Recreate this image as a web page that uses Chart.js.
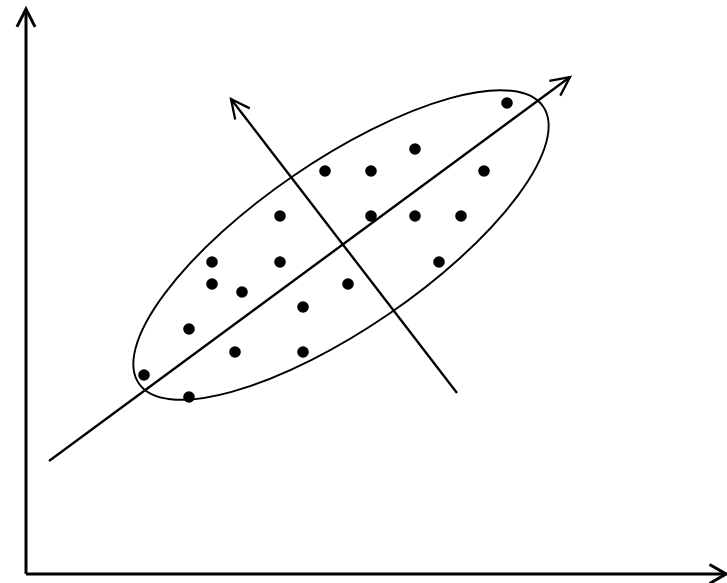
<!DOCTYPE html>
<html>
<head>
<meta charset="utf-8">
<script src="https://cdn.jsdelivr.net/npm/chart.js@4"></script>
<style>
  html, body { margin: 0; padding: 0; background: #fff; }
  #wrap { width: 727px; height: 583px; }
</style>
</head>
<body>
<div id="wrap"><canvas id="myChart"></canvas></div>
<script>
// sample points (units measured from the axes corner)
var pointsX = [481, 389, 299, 345, 458, 254, 345, 389, 435, 186, 254, 413, 186, 216, 322, 277, 163, 209, 277, 118, 163];
var pointsY = [471, 425, 403, 403, 403, 358, 358, 358, 358, 312, 312, 312, 290, 282, 290, 267, 245, 222, 222, 199, 177];

// principal component lines: [tail, tip]
var pc1X = [23, 544];
var pc1Y = [113, 497];
var pc2X = [431, 205];
var pc2Y = [181, 475];

// axes: [origin, tip]
var xAxisX = [0, 700];
var xAxisY = [0, 0];
var yAxisX = [0, 0];
var yAxisY = [0, 565];

// confidence ellipse
var ellipseCenter = [315, 329];
var ellipseRadii = [245, 84];
var ellipseAngle = 34.4;

function pairs(xs, ys) {
    return xs.map(function (x, i) { return { x: x, y: ys[i] }; });
}

function lineSet(xs, ys, width, arrow) {
    return {
        type: 'line',
        data: pairs(xs, ys),
        borderColor: '#000',
        borderWidth: width,
        pointRadius: 0,
        fill: false,
        tension: 0,
        clip: false,
        order: 2,
        arrow: arrow
    };
}

var ellipsePlugin = {
    id: 'ellipse',
    beforeDatasetsDraw: function (chart) {
        var ctx = chart.ctx, xs = chart.scales.x, ys = chart.scales.y;
        var cx = xs.getPixelForValue(ellipseCenter[0]);
        var cy = ys.getPixelForValue(ellipseCenter[1]);
        var k = xs.getPixelForValue(1) - xs.getPixelForValue(0);
        ctx.save();
        ctx.beginPath();
        ctx.ellipse(cx, cy, ellipseRadii[0] * k, ellipseRadii[1] * k, -ellipseAngle * Math.PI / 180, 0, Math.PI * 2);
        ctx.lineWidth = 1.9;
        ctx.strokeStyle = '#000';
        ctx.stroke();
        ctx.restore();
    }
};

var arrowPlugin = {
    id: 'arrows',
    afterDatasetsDraw: function (chart) {
        var ctx = chart.ctx, xs = chart.scales.x, ys = chart.scales.y;
        chart.data.datasets.forEach(function (ds) {
            if (!ds.arrow) return;
            var n = ds.data.length;
            var x1 = xs.getPixelForValue(ds.data[n - 2].x), y1 = ys.getPixelForValue(ds.data[n - 2].y);
            var x2 = xs.getPixelForValue(ds.data[n - 1].x), y2 = ys.getPixelForValue(ds.data[n - 1].y);
            var ang = Math.atan2(y2 - y1, x2 - x1);
            var len = ds.arrow.len, spread = ds.arrow.spread * Math.PI / 180;
            ctx.save();
            ctx.beginPath();
            ctx.moveTo(x2 - len * Math.cos(ang - spread), y2 - len * Math.sin(ang - spread));
            ctx.lineTo(x2, y2);
            ctx.lineTo(x2 - len * Math.cos(ang + spread), y2 - len * Math.sin(ang + spread));
            ctx.lineWidth = ds.borderWidth;
            ctx.lineCap = 'butt';
            ctx.lineJoin = 'miter';
            ctx.strokeStyle = '#000';
            ctx.stroke();
            ctx.restore();
        });
    }
};

var ctx = document.getElementById('myChart').getContext('2d');
var myChart = new Chart(ctx, {
    type: 'scatter',
    data: {
        datasets: [{
            data: pairs(pointsX, pointsY),
            backgroundColor: '#000',
            borderColor: '#000',
            pointRadius: 5.8,
            borderWidth: 0,
            order: 0
        },
        lineSet(pc1X, pc1Y, 2.3, { len: 21, spread: 26 }),
        lineSet(pc2X, pc2Y, 2.3, { len: 21, spread: 26 }),
        lineSet(xAxisX, xAxisY, 3, { len: 19, spread: 30 }),
        lineSet(yAxisX, yAxisY, 3, { len: 20, spread: 27 })
        ]
    },
    options: {
        responsive: true,
        maintainAspectRatio: false,
        animation: false,
        layout: { padding: 0, autoPadding: false },
        plugins: {
            legend: { display: false },
            tooltip: { enabled: false }
        },
        scales: {
            x: { type: 'linear', min: -26, max: 701, display: false },
            y: { type: 'linear', min: -9, max: 574, display: false }
        }
    },
    plugins: [ellipsePlugin, arrowPlugin]
});
</script>
</body>
</html>
